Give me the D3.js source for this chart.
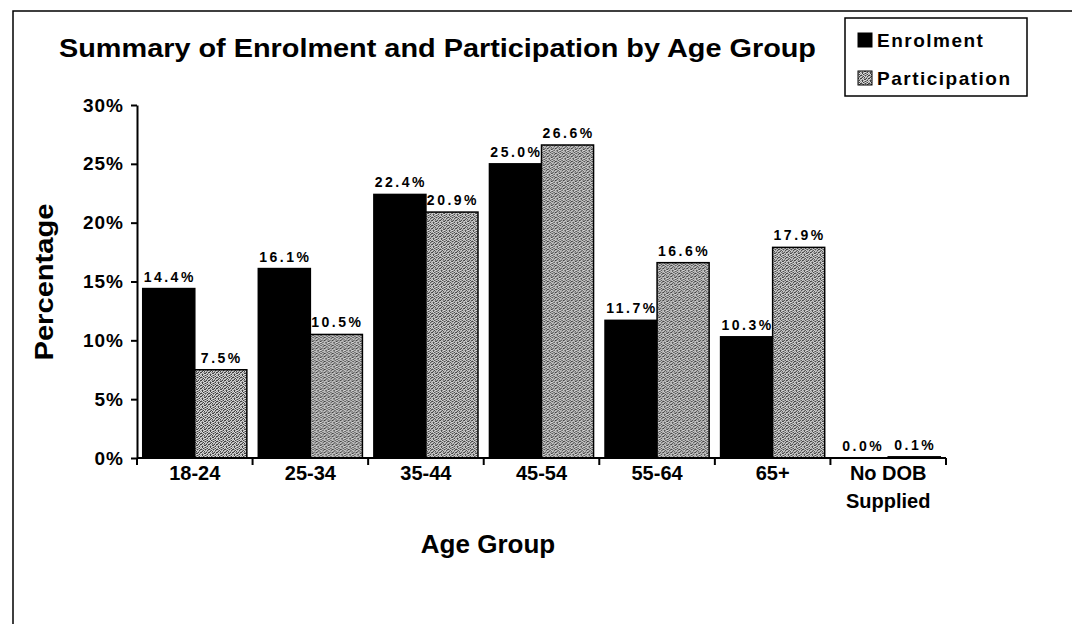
<!DOCTYPE html>
<html lang="en">
<head>
<meta charset="UTF-8">
<title>Summary of Enrolment and Participation by Age Group</title>
<script src="https://d3js.org/d3.v7.min.js"></script>
<style>
    body {
        margin: 0;
        background: #fff;
    }

    svg {
        display: block;
        font-family: "Liberation Sans", Arial, sans-serif;
        font-weight: bold;
    }
</style>
</head>
<body>
<svg width="1072" height="624"></svg>
<script>
    // data
    const groups = ["18-24", "25-34", "35-44", "45-54", "55-64", "65+", "No DOB Supplied"];
    const groupLines = [["18-24"], ["25-34"], ["35-44"], ["45-54"], ["55-64"], ["65+"], ["No DOB", "Supplied"]];
    const seriesNames = ["Enrolment", "Participation"];
    const enrolment = [14.4, 16.1, 22.4, 25.0, 11.7, 10.3, 0.0];
    const participation = [7.5, 10.5, 20.9, 26.6, 16.6, 17.9, 0.1];
    const yTicks = [0, 5, 10, 15, 20, 25, 30];

    const svg = d3.select("svg");

    // stipple pattern for the participation bars (scanned halftone look)
    const tile = [
        "10210120",
        "21012102",
        "01201021",
        "12020110",
        "20111202",
        "01022011",
        "12100120",
        "02012101"
    ];
    const shade = { "0": "#dadada", "1": "#9a9a9a", "2": "#424242" };
    const cells = [];
    tile.forEach((row, j) => row.split("").forEach((c, i) => cells.push({ i, j, c })));
    const pat = svg.append("defs").append("pattern")
        .attr("id", "stipple")
        .attr("width", 8).attr("height", 8)
        .attr("patternUnits", "userSpaceOnUse");
    pat.selectAll("rect")
        .data(cells)
        .enter().append("rect")
        .attr("x", d => d.i).attr("y", d => d.j)
        .attr("width", 1).attr("height", 1)
        .attr("fill", d => shade[d.c]);

    // frame (left and top edges only are visible)
    svg.append("path")
        .attr("d", "M13,624V11H1072")
        .attr("fill", "none")
        .attr("stroke", "#000")
        .attr("stroke-width", 1.5);

    const x = d3.scaleBand().domain(groups).range([137, 946]);
    const xs = d3.scaleBand().domain(seriesNames).range([0, x.bandwidth()]).paddingOuter(0.11);
    const y = d3.scaleLinear().domain([0, 30]).range([458, 105]);

    // title
    svg.append("text")
        .attr("x", 59).attr("y", 57)
        .attr("font-size", 26)
        .attr("textLength", 757)
        .attr("lengthAdjust", "spacingAndGlyphs")
        .text("Summary of Enrolment and Participation by Age Group");

    // bars
    const rows = groups.map((g, i) => ({ g, vals: [enrolment[i], participation[i]] }));
    const grp = svg.selectAll(".grp")
        .data(rows)
        .enter().append("g")
        .attr("transform", d => `translate(${x(d.g)},0)`);

    grp.selectAll("rect")
        .data(d => d.vals.map((v, k) => ({ s: seriesNames[k], v })))
        .enter().append("rect")
        .attr("x", d => xs(d.s))
        .attr("y", d => y(d.v))
        .attr("width", xs.bandwidth())
        .attr("height", d => y(0) - y(d.v))
        .attr("fill", d => d.s === "Enrolment" ? "#000" : "url(#stipple)")
        .attr("stroke", "#000")
        .attr("stroke-width", 1.5);

    grp.selectAll("text")
        .data(d => d.vals.map((v, k) => ({ s: seriesNames[k], v })))
        .enter().append("text")
        .attr("x", d => xs(d.s) + xs.bandwidth() / 2 + 1)
        .attr("y", d => y(d.v) - 7)
        .attr("text-anchor", "middle")
        .attr("font-size", 14)
        .attr("letter-spacing", 2.5)
        .text(d => d.v.toFixed(1) + "%");

    // y axis
    const yAxis = svg.append("g")
        .attr("transform", "translate(137,0)")
        .call(d3.axisLeft(y).tickValues(yTicks).tickFormat(d => d + "%").tickSize(6).tickSizeOuter(0).tickPadding(7));
    yAxis.select(".domain").attr("stroke-width", 2);
    yAxis.selectAll(".tick line").attr("stroke-width", 2);
    yAxis.selectAll(".tick text")
        .attr("font-size", 19)
        .attr("letter-spacing", 1)
        .attr("font-family", "Liberation Sans, Arial, sans-serif")
        .attr("font-weight", "bold");

    // x axis: line and ticks at category boundaries
    svg.append("line")
        .attr("x1", x.range()[0]).attr("x2", x.range()[1])
        .attr("y1", y(0)).attr("y2", y(0))
        .attr("stroke", "#000").attr("stroke-width", 2);
    const bounds = groups.map(g => x(g)).concat([x.range()[1]]);
    svg.selectAll(".xtick")
        .data(bounds)
        .enter().append("line")
        .attr("x1", d => d).attr("x2", d => d)
        .attr("y1", y(0)).attr("y2", y(0) + 7)
        .attr("stroke", "#000").attr("stroke-width", 2);

    svg.selectAll(".xlab")
        .data(groups)
        .enter().append("text")
        .attr("text-anchor", "middle")
        .attr("font-size", 20)
        .attr("y", 480)
        .each(function (g, i) {
            const t = d3.select(this);
            groupLines[i].forEach((ln, j) => {
                t.append("tspan")
                    .attr("x", x(g) + x.bandwidth() / 2)
                    .attr("dy", j === 0 ? 0 : 28)
                    .text(ln);
            });
        });

    // axis titles
    svg.append("text")
        .attr("x", 488).attr("y", 553)
        .attr("text-anchor", "middle")
        .attr("font-size", 26)
        .text("Age Group");

    svg.append("text")
        .attr("transform", "translate(53,282) rotate(-90)")
        .attr("text-anchor", "middle")
        .attr("font-size", 25)
        .attr("textLength", 157)
        .attr("lengthAdjust", "spacingAndGlyphs")
        .text("Percentage");

    // legend
    const lg = svg.append("g").attr("transform", "translate(845,18)");
    lg.append("rect")
        .attr("width", 182).attr("height", 78)
        .attr("fill", "#fff")
        .attr("stroke", "#000").attr("stroke-width", 1.5);
    seriesNames.forEach((s, k) => {
        lg.append("rect")
            .attr("x", 13).attr("y", 15 + k * 38)
            .attr("width", 14).attr("height", 14)
            .attr("fill", k === 0 ? "#000" : "url(#stipple)")
            .attr("stroke", "#000").attr("stroke-width", 1);
        lg.append("text")
            .attr("x", 32).attr("y", 29 + k * 38)
            .attr("font-size", 19)
            .attr("letter-spacing", 1.5)
            .text(s);
    });
</script>
</body>
</html>
